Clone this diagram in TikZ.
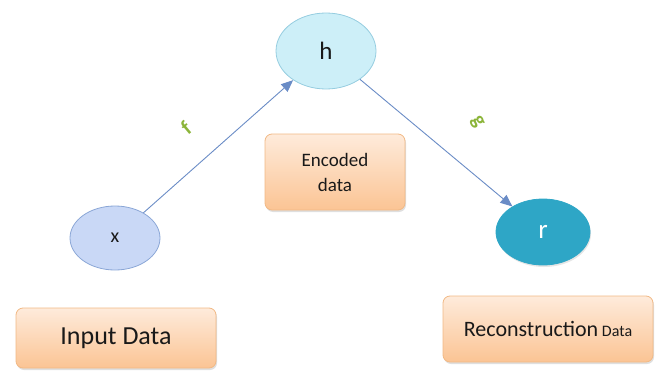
\documentclass[tikz,border=0pt]{standalone}
\usepackage{fontspec}
\setmainfont{Carlito}
\usetikzlibrary{shapes.geometric,shadows,arrows.meta}

\definecolor{xfill}{HTML}{C9D8F6}
\definecolor{xline}{HTML}{8AA6D6}
\definecolor{hfill}{HTML}{CDEFF8}
\definecolor{hline}{HTML}{96CDE0}
\definecolor{rfill}{HTML}{2EA6C6}
\definecolor{boxtop}{HTML}{FEEBDB}
\definecolor{boxbot}{HTML}{FBC494}
\definecolor{boxline}{HTML}{F1B985}
\definecolor{flowcol}{HTML}{6A8CC6}
\definecolor{labcol}{HTML}{8CB53A}

\tikzset{
  blob/.style={ellipse,draw,line width=0.8pt,text=black!90},
  databox/.style={rectangle,rounded corners=7pt,draw=boxline,line width=0.8pt,
    top color=boxtop,bottom color=boxbot,align=center,text=black!90,
    drop shadow={opacity=0.25,shadow xshift=1pt,shadow yshift=-2pt}},
  flow/.style={flowcol,line width=0.9pt,-{Triangle[length=12pt,width=10pt]}},
  flowlab/.style={text=labcol,font=\fontsize{21}{21}\selectfont\bfseries}
}

\begin{document}
\begin{tikzpicture}[x=1pt,y=-1pt]

  \useasboundingbox (0,0) rectangle (659,372);

  % the three codes
  \node[blob,fill=xfill,draw=xline,minimum width=90pt,minimum height=64pt,
    font=\fontsize{20}{20}\selectfont] (x) at (115,238) {x};
  \node[blob,fill=hfill,draw=hline,minimum width=100pt,minimum height=76pt,
    font=\fontsize{25}{25}\selectfont] (h) at (326,51) {h};
  \node[blob,fill=rfill,draw=rfill,text=white,minimum width=94pt,minimum height=66pt,
    font=\fontsize{27}{27}\selectfont,
    drop shadow={opacity=0.2,shadow xshift=1pt,shadow yshift=-2pt}] (r) at (543,232) {r};

  % captions
  \node[databox,minimum width=140pt,minimum height=76pt,
    font=\fontsize{19}{25}\selectfont] (enc) at (335,172) {Encoded\\data};
  \node[databox,minimum width=200pt,minimum height=60pt,
    font=\fontsize{26}{26}\selectfont] (in) at (116,338) {Input Data};
  \node[databox,minimum width=210pt,minimum height=66pt,
    font=\fontsize{22}{22}\selectfont] (rec) at (548,329)
    {Reconstruction\,{\fontsize{16}{16}\selectfont Data}};

  % encoder and decoder
  \draw[flow] (x) -- (h);
  \draw[flow] (h) -- (r);

  \node[flowlab,rotate=40] (f) at (186,128) {f};
  \node[flowlab,rotate=-60] (g) at (477,122) {g};

\end{tikzpicture}
\end{document}
